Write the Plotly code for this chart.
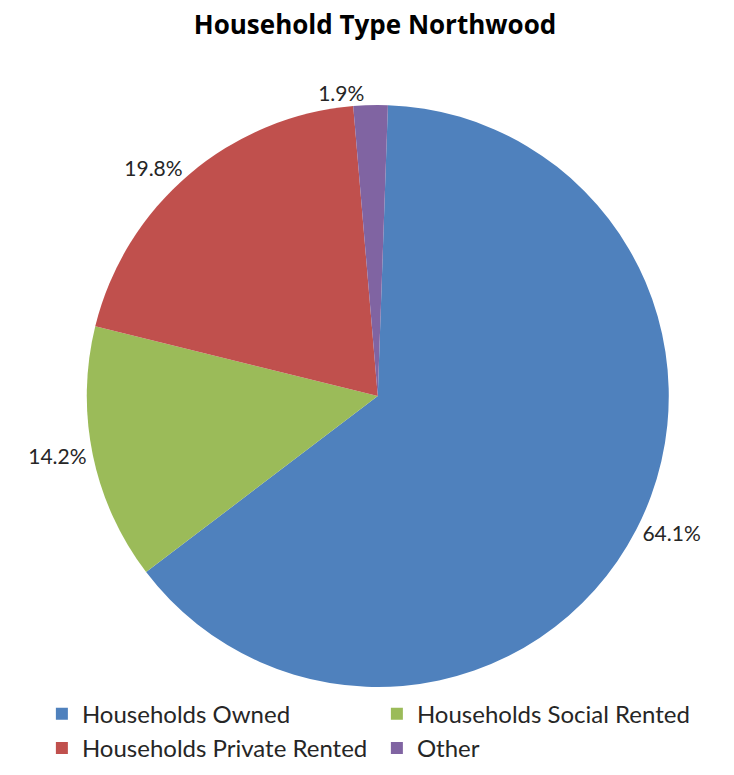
import plotly.graph_objects as go

labels = ["Households Owned", "Households Social Rented", "Households Private Rented", "Other"]
values = [64.1, 14.2, 19.8, 1.9]
colors = ["#4F81BD", "#9BBB59", "#C0504D", "#8064A2"]

fig = go.Figure(
    go.Pie(
        labels=labels,
        values=values,
        sort=False,
        direction="clockwise",
        rotation=2,
        domain=dict(x=[0.084, 0.924], y=[0, 1]),
        marker=dict(colors=colors, line=dict(width=0)),
        texttemplate="%{value:.1f}%",
        textposition="outside",
        outsidetextfont=dict(size=21, color="#262626", family="Lato"),
        showlegend=True,
    )
)

fig.update_layout(
    width=734,
    height=775,
    margin=dict(l=20, r=20, t=97, b=96),
    paper_bgcolor="white",
    plot_bgcolor="white",
    font=dict(family="Lato", color="#262626"),
    title=dict(
        text="<b>Household Type Northwood</b>",
        x=0.5,
        xanchor="center",
        y=0.99,
        yanchor="top",
        font=dict(size=26, color="black", family="Open Sans"),
    ),
    legend=dict(
        orientation="h",
        x=0.02,
        xanchor="left",
        y=-0.008,
        yanchor="top",
        entrywidth=290,
        font=dict(size=24, color="#262626", family="Lato"),
        traceorder="normal",
    ),
)

fig.write_html("out.html")
